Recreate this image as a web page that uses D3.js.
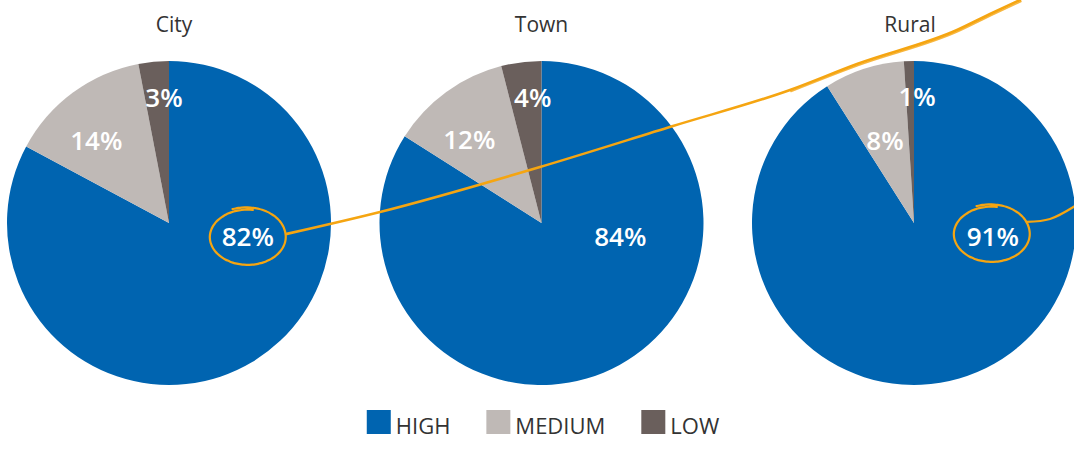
<!DOCTYPE html>
<html>
<head>
<meta charset="utf-8">
<script src="https://cdn.jsdelivr.net/npm/d3@7/dist/d3.min.js"></script>
<style>
  html, body { margin: 0; padding: 0; background: #ffffff; }
  svg { display: block; }
  text { font-family: "Open Sans", "Noto Sans", sans-serif; }
</style>
</head>
<body>
<svg id="chart" width="1074" height="450"></svg>
<script>
// Share of respondents by level, per area
const categories = ["City", "Town", "Rural"];
const levels = ["HIGH", "MEDIUM", "LOW"];
const highValues = [82, 84, 91];
const mediumValues = [14, 12, 8];
const lowValues = [3, 4, 1];

const width = 1074, height = 450;
const radius = 162;
const pieY = 223;

const svg = d3.select("#chart");

const color = d3.scaleOrdinal()
  .domain(levels)
  .range(["#0064b0", "#bfb9b6", "#6a5f5c"]);

const x = d3.scalePoint()
  .domain(categories)
  .range([169, 914]);

const pie = d3.pie().sort(null).value(d => d.value);
const arc = d3.arc().innerRadius(0).outerRadius(radius);

const seriesByLevel = { HIGH: highValues, MEDIUM: mediumValues, LOW: lowValues };

const rad = deg => deg * Math.PI / 180;

// Label placement inside each slice
function labelPoint(d) {
  const mid = (d.startAngle + d.endAngle) / 2;
  const w = d.endAngle - d.startAngle;
  let r, a, shift = 0;
  if (d.data.level === "HIGH") {
    r = 80; a = rad(100);
  } else if (d.data.level === "MEDIUM") {
    const fit = Math.min(1, w / 0.63);
    r = 110 * fit; a = mid - rad(5) * Math.pow(fit, 6);
  } else {
    r = 126; a = mid; shift = 7;
  }
  return [r * Math.sin(a) + shift, -r * Math.cos(a)];
}

const labelPos = {};

categories.forEach((cat, i) => {
  const rows = levels.map(l => ({ level: l, value: seriesByLevel[l][i] }));
  const g = svg.append("g").attr("transform", `translate(${x(cat)},${pieY})`);

  const arcs = pie(rows);
  g.selectAll("path.slice")
    .data(arcs)
    .join("path")
    .attr("class", "slice")
    .attr("d", arc)
    .attr("fill", d => color(d.data.level));

  g.selectAll("text.value")
    .data(arcs)
    .join("text")
    .attr("class", "value")
    .attr("x", d => labelPoint(d)[0])
    .attr("y", d => labelPoint(d)[1])
    .attr("dy", "0.36em")
    .attr("text-anchor", "middle")
    .attr("fill", "#ffffff")
    .attr("font-size", 26)
    .attr("font-weight", 600)
    .text(d => d.data.value + "%");

  const p = labelPoint(arcs[0]);
  labelPos[cat] = [x(cat) + p[0], pieY + p[1]];

  svg.append("text")
    .attr("x", x(cat) + (i === 0 ? 5 : i === 2 ? -4 : 0))
    .attr("y", 32)
    .attr("text-anchor", "middle")
    .attr("fill", "#333333")
    .attr("font-size", 21)
    .text(cat);
});

// Hand-drawn callouts
const marker = "#f5a511";

function scribbleEllipse(cx, cy, rx, ry) {
  const pts = [];
  const t0 = rad(-112), t1 = t0 + 2 * Math.PI + rad(30);
  const n = 90;
  for (let k = 0; k <= n; k++) {
    const f = k / n;
    const t = t0 + (t1 - t0) * f;
    const grow = 1 + 0.07 * Math.max(0, 1 - f * 4) - 0.03 * Math.max(0, f * 4 - 3);
    pts.push([cx + rx * grow * Math.cos(t), cy + ry * grow * Math.sin(t)]);
  }
  return d3.line().curve(d3.curveBasis)(pts);
}

const ann = svg.append("g").attr("fill", "none").attr("stroke", marker).attr("stroke-linecap", "round");

const c1 = labelPos["City"];
const c3 = labelPos["Rural"];

ann.append("path")
  .attr("d", scribbleEllipse(c1[0], c1[1], 38, 28))
  .attr("stroke-width", 2.2);
ann.append("path")
  .attr("d", scribbleEllipse(c3[0] - 1, c3[1] - 3, 38, 28))
  .attr("stroke-width", 2.2);

const leadPts = [
  [c1[0] + 39, c1[1] - 3],
  [380, 212],
  [540, 167],
  [673, 126],
  [790, 90],
  [857, 64],
  [957, 30],
  [990, 14],
  [1020, 0]
];
const lead = d3.line().curve(d3.curveMonotoneX);
ann.append("path").attr("d", lead(leadPts)).attr("stroke-width", 2.6);
ann.append("path")
  .attr("d", lead(leadPts.slice(4).map(([a, b]) => [a + 1, b + 1.5])))
  .attr("stroke-width", 1.6)
  .attr("stroke-opacity", 0.8);

const tailPts = [
  [c3[0] + 34, c3[1] - 15],
  [1050, 219],
  [1075, 206]
];
ann.append("path").attr("d", d3.line().curve(d3.curveCatmullRom)(tailPts)).attr("stroke-width", 2.2);

// Legend
const legend = svg.append("g");
let lx = 0;
levels.forEach(l => {
  const item = legend.append("g").attr("transform", `translate(${lx},0)`);
  item.append("rect").attr("width", 24).attr("height", 24).attr("fill", color(l));
  const t = item.append("text")
    .attr("x", 29)
    .attr("y", 24)
    .attr("fill", "#333333")
    .attr("font-size", 22)
    .text(l);
  lx += 29 + t.node().getComputedTextLength() + 36;
});
const legendWidth = lx - 36;
legend.attr("transform", `translate(${(width - legendWidth) / 2 + 6},410)`);
</script>
</body>
</html>
